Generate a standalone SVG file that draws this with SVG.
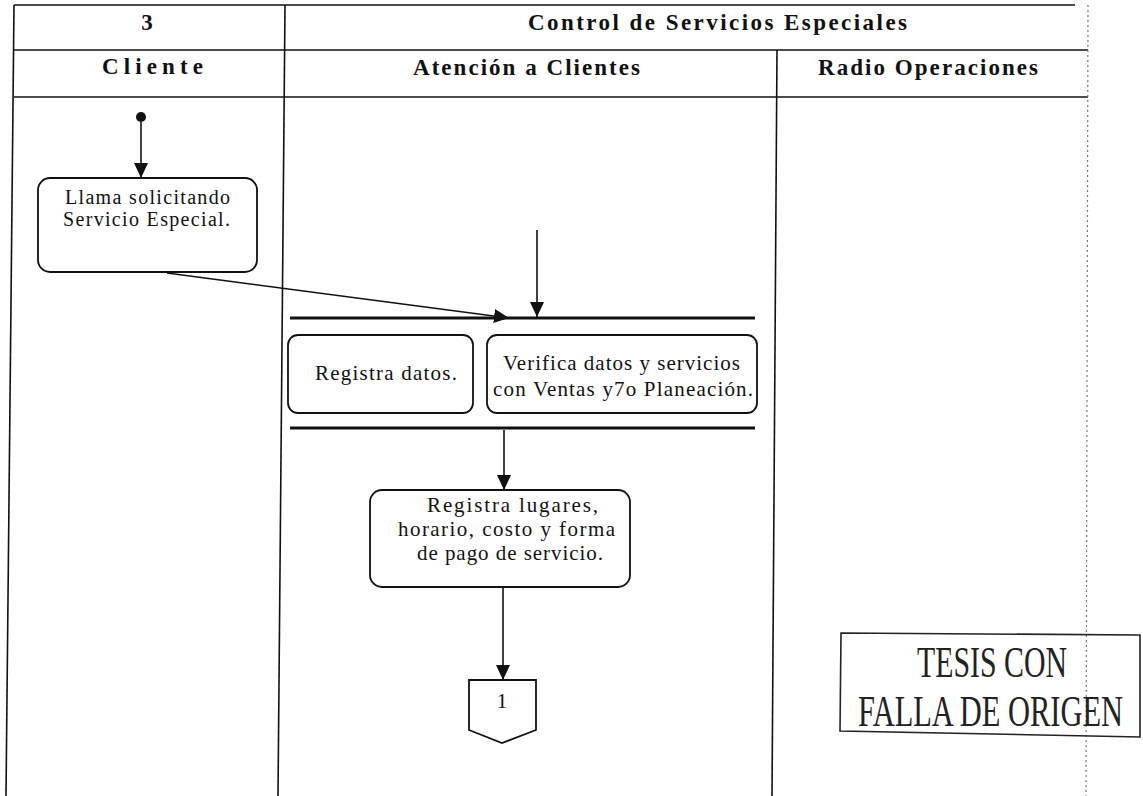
<svg xmlns="http://www.w3.org/2000/svg" width="1143" height="796" viewBox="0 0 1143 796">
  <style>
    .grid { stroke: #111; stroke-width: 1.6; fill: none; }
    .faint { stroke: #777; stroke-width: 1.2; stroke-dasharray: 2 3; fill: none; }
    .hdr { font-family: "Liberation Serif", "Times New Roman", serif; font-weight: bold; font-size: 23px; fill: #111; }
    .txt { font-family: "Liberation Serif", "Times New Roman", serif; font-size: 21px; fill: #111; }
    .sm { font-size: 20px; }
    .box { fill: #fff; stroke: #111; stroke-width: 1.8; }
    .bar { stroke: #111; stroke-width: 3.2; }
    .flow { stroke: #111; stroke-width: 1.6; fill: none; marker-end: url(#ah); }
    .stamp { font-family: "Liberation Serif", "Times New Roman", serif; font-size: 44px; fill: #222; }
  </style>
  <defs>
    <marker id="ah" markerUnits="userSpaceOnUse" markerWidth="15" markerHeight="14" refX="15" refY="7" orient="auto">
      <path d="M0,0 L15,7 L0,14 Z" fill="#111"/>
    </marker>
  </defs>

  <rect width="1143" height="796" fill="#fff"/>

  <!-- swimlane table -->
  <g id="lanes">
    <line class="grid" x1="14" y1="5" x2="1075" y2="5"/>
    <line class="grid" x1="14" y1="50" x2="1088" y2="50"/>
    <line class="grid" x1="14" y1="97" x2="1088" y2="97"/>
    <line class="grid" x1="14" y1="5" x2="6" y2="796"/>
    <line class="grid" x1="285" y1="5" x2="278" y2="796"/>
    <line class="grid" x1="777" y1="50" x2="772" y2="796"/>
    <line class="faint" x1="1088" y1="5" x2="1086" y2="796"/>

    <text class="hdr" x="147" y="30" text-anchor="middle">3</text>
    <text class="hdr" x="528" y="30" textLength="379">Control de Servicios  Especiales</text>
    <text class="hdr" x="102" y="74" textLength="101">Cliente</text>
    <text class="hdr" x="413" y="75" textLength="227">Atención a Clientes</text>
    <text class="hdr" x="818" y="75" textLength="220">Radio Operaciones</text>
  </g>

  <!-- connectors -->
  <g id="connectors">
    <path class="flow" d="M141,122 L141,178"/>
    <path class="flow" d="M167,273 L509,318"/>
    <path class="flow" d="M537,230 L537,317"/>
    <path class="flow" d="M504,430 L504,490"/>
    <path class="flow" d="M503,587 L503,680"/>
  </g>

  <g id="start">
    <circle cx="141" cy="117" r="5" fill="#111"/>
  </g>

  <g id="llama">
    <rect class="box" x="38" y="178" width="219" height="94" rx="12"/>
    <text class="txt sm" x="65" y="204" textLength="165">Llama solicitando</text>
    <text class="txt sm" x="63" y="226" textLength="167">Servicio Especial.</text>
  </g>

  <g id="fork">
    <line class="bar" x1="290" y1="318" x2="755" y2="318"/>
  </g>

  <g id="registra-datos">
    <rect class="box" x="288" y="335" width="185" height="78" rx="10"/>
    <text class="txt" x="315" y="380" textLength="142">Registra datos.</text>
  </g>

  <g id="verifica">
    <rect class="box" x="487" y="335" width="270" height="78" rx="10"/>
    <text class="txt" x="503" y="370" textLength="237">Verifica datos y servicios</text>
    <text class="txt" x="493" y="396" textLength="260">con Ventas y7o Planeación.</text>
  </g>

  <g id="join">
    <line class="bar" x1="290" y1="428" x2="755" y2="428"/>
  </g>

  <g id="registra-lugares">
    <rect class="box" x="370" y="490" width="260" height="97" rx="12"/>
    <text class="txt" x="427" y="512" textLength="171">Registra lugares,</text>
    <text class="txt" x="398" y="536" textLength="217">horario, costo y forma</text>
    <text class="txt" x="417" y="560" textLength="186">de pago de servicio.</text>
  </g>

  <g id="offpage-1">
    <polygon class="box" points="469,680 536,680 536,730 502,743 469,730"/>
    <text class="txt" x="502" y="708" text-anchor="middle">1</text>
  </g>

  <g id="stamp">
    <polygon points="841,633 1140,635 1140,737 840,731" fill="none" stroke="#222" stroke-width="1.6"/>
    <text class="stamp" x="917" y="677" textLength="150" lengthAdjust="spacingAndGlyphs">TESIS CON</text>
    <text class="stamp" x="858" y="726" textLength="265" lengthAdjust="spacingAndGlyphs">FALLA DE ORIGEN</text>
  </g>
</svg>
